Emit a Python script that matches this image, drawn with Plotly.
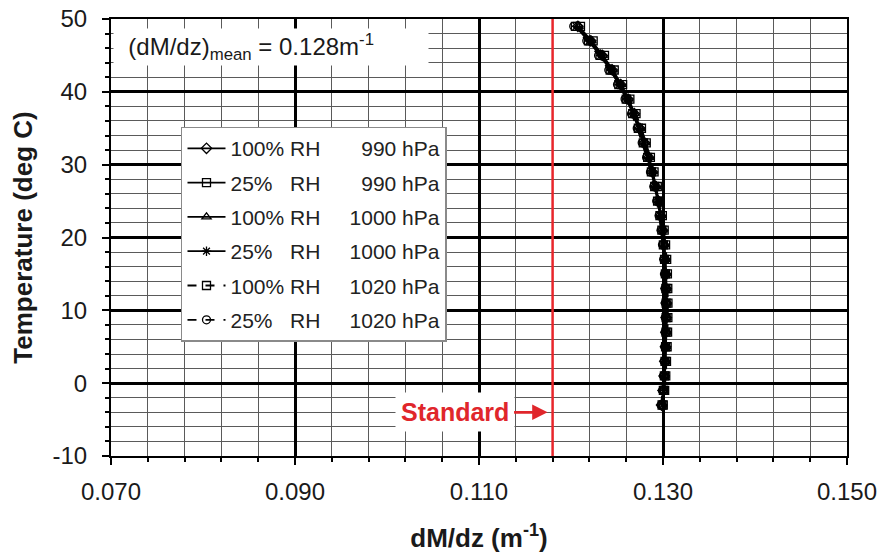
import plotly.graph_objects as go

# Temperature levels (deg C)
temperature = [-3, -1, 1, 3, 5, 7, 9, 11, 13, 15, 17, 19, 21, 23, 25,
               27, 29, 31, 33, 35, 37, 39, 41, 43, 45, 47, 49]

# dM/dz (m^-1) for each humidity / pressure case
rh100_990 = [0.12985, 0.13000, 0.13012, 0.13020, 0.13027, 0.13032, 0.13035, 0.13036, 0.13034,
             0.13030, 0.13022, 0.13010, 0.12995, 0.12975, 0.12950, 0.12920, 0.12885, 0.12845,
             0.12800, 0.12748, 0.12688, 0.12620, 0.12540, 0.12448, 0.12340, 0.12215, 0.12075]
rh25_990 = [0.12990, 0.13004, 0.13015, 0.13022, 0.13028, 0.13032, 0.13034, 0.13034, 0.13031,
            0.13026, 0.13017, 0.13004, 0.12988, 0.12967, 0.12941, 0.12910, 0.12874, 0.12833,
            0.12786, 0.12732, 0.12671, 0.12601, 0.12520, 0.12426, 0.12316, 0.12190, 0.12048]
rh100_1000 = [0.12992, 0.13006, 0.13018, 0.13026, 0.13033, 0.13038, 0.13041, 0.13042, 0.13040,
              0.13036, 0.13028, 0.13016, 0.13001, 0.12981, 0.12956, 0.12926, 0.12891, 0.12851,
              0.12806, 0.12754, 0.12694, 0.12626, 0.12547, 0.12455, 0.12348, 0.12224, 0.12085]
rh25_1000 = [0.12996, 0.13010, 0.13021, 0.13028, 0.13034, 0.13038, 0.13040, 0.13040, 0.13037,
             0.13032, 0.13023, 0.13010, 0.12994, 0.12973, 0.12947, 0.12916, 0.12880, 0.12839,
             0.12792, 0.12738, 0.12677, 0.12607, 0.12527, 0.12433, 0.12324, 0.12198, 0.12057]
rh100_1020 = [0.13003, 0.13018, 0.13030, 0.13038, 0.13045, 0.13050, 0.13053, 0.13054, 0.13052,
              0.13048, 0.13040, 0.13028, 0.13013, 0.12993, 0.12968, 0.12938, 0.12903, 0.12863,
              0.12818, 0.12766, 0.12707, 0.12640, 0.12561, 0.12470, 0.12364, 0.12241, 0.12103]
rh25_1020 = [0.12980, 0.12995, 0.13006, 0.13013, 0.13019, 0.13023, 0.13025, 0.13025, 0.13022,
             0.13017, 0.13008, 0.12995, 0.12979, 0.12958, 0.12932, 0.12900, 0.12864, 0.12822,
             0.12774, 0.12720, 0.12658, 0.12588, 0.12506, 0.12411, 0.12300, 0.12172, 0.12030]

series_values = [rh100_990, rh25_990, rh100_1000, rh25_1000, rh100_1020, rh25_1020]
humidity_labels = ["100%\u00a0RH", "25%\u00a0\u00a0\u00a0RH", "100%\u00a0RH",
                   "25%\u00a0\u00a0\u00a0RH", "100%\u00a0RH", "25%\u00a0\u00a0\u00a0RH"]
pressure_labels = ["990\u00a0hPa", "990\u00a0hPa", "1000\u00a0hPa",
                   "1000\u00a0hPa", "1020\u00a0hPa", "1020\u00a0hPa"]
marker_symbols = ["diamond-open", "square-open", "triangle-up-open",
                  "asterisk-open", "square-open", "circle-open"]
line_dashes = ["solid", "solid", "solid", "solid", "dash", "dash"]

# axis ticks
x_tick_values = [0.070, 0.090, 0.110, 0.130, 0.150]
x_tick_labels = ["0.070", "0.090", "0.110", "0.130", "0.150"]
y_tick_values = [-10, 0, 10, 20, 30, 40, 50]
y_tick_labels = ["-10", "0", "10", "20", "30", "40", "50"]

STANDARD = 0.118     # standard atmosphere dM/dz (m^-1)
MEAN_VALUE = 0.128   # mean dM/dz (m^-1)

FONT = "Liberation Sans, Arial, sans-serif"
INK = "#1a1a1a"
RED = "#e0262b"

fig = go.Figure()

for i, vals in enumerate(series_values):
    pad_count = 7 if pressure_labels[i].startswith("990") else 5
    name = humidity_labels[i] + "\u00a0" * pad_count + pressure_labels[i]
    fig.add_trace(go.Scatter(
        x=vals, y=temperature, mode="lines+markers", name=name,
        legendgroup=f"g{i}",
        line=dict(color="black", width=1.8, dash=line_dashes[i]),
        marker=dict(symbol=marker_symbols[i], size=8, color="black",
                    line=dict(color="black", width=1.3)),
    ))

# standard reference line
fig.add_vline(x=STANDARD, line=dict(color="#e8262b", width=2.5), layer="above")

# label with an arrow pointing at the standard line
fig.add_annotation(
    x=STANDARD, y=-4, xref="x", yref="y",
    ax=-98, ay=0, axref="pixel", ayref="pixel",
    showarrow=True, arrowhead=2, arrowsize=1.1, arrowwidth=2.8,
    arrowcolor=RED, standoff=5,
    text="<b>Standard</b>",
    font=dict(family=FONT, size=25, color=RED),
    bgcolor="white", borderpad=5,
)

fig.add_annotation(
    x=0, y=0.937, xref="paper", yref="paper", xanchor="left", yanchor="middle",
    xshift=2, showarrow=False, align="left", width=312,
    text="\u00a0\u00a0(dM/dz)<sub>mean</sub> = " + f"{MEAN_VALUE:.3f}" + "m<sup>-1</sup>",
    font=dict(family=FONT, size=24, color=INK),
    bgcolor="white", borderpad=1,
)

axis_common = dict(
    showline=True, linecolor="black", linewidth=2, mirror=True,
    showgrid=True, gridcolor="black", gridwidth=3,
    ticks="outside", ticklen=7, tickcolor="black", tickwidth=2,
    tickfont=dict(family=FONT, size=24, color=INK),
    zeroline=False, automargin=False,
)

fig.update_xaxes(
    range=[0.070, 0.150], tickmode="array",
    tickvals=x_tick_values, ticktext=x_tick_labels,
    minor=dict(dtick=0.004, tick0=0.07, showgrid=True, gridcolor="#5a5a5a", gridwidth=1.2,
               ticks="outside", ticklen=4, tickcolor="black"),
    title=dict(text="<b>dM/dz (m<sup>-1</sup>)</b>", standoff=30,
               font=dict(family=FONT, size=26, color=INK)),
    ticklabelstandoff=6,
    **axis_common,
)
fig.update_yaxes(
    range=[-10, 50], tickmode="array",
    tickvals=y_tick_values, ticktext=y_tick_labels,
    minor=dict(dtick=2, tick0=0, showgrid=True, gridcolor="#5a5a5a", gridwidth=1.2,
               ticks="outside", ticklen=4, tickcolor="black"),
    title=dict(text="<b>Temperature (deg C)</b>", standoff=12,
               font=dict(family=FONT, size=26, color=INK)),
    ticklabelstandoff=10,
    **axis_common,
)

fig.update_layout(
    width=882, height=553,
    margin=dict(l=111, r=35, t=19, b=97),
    paper_bgcolor="white", plot_bgcolor="white",
    font=dict(family=FONT, color=INK),
    showlegend=True,
    legend=dict(
        x=0.0951, y=0.7537, xanchor="left", yanchor="top",
        bgcolor="white", bordercolor="#8a8a8a", borderwidth=1.5,
        font=dict(family=FONT, size=21, color="#222222"),
        itemwidth=38, tracegroupgap=4, traceorder="grouped",
    ),
)

fig.write_html("out.html")
